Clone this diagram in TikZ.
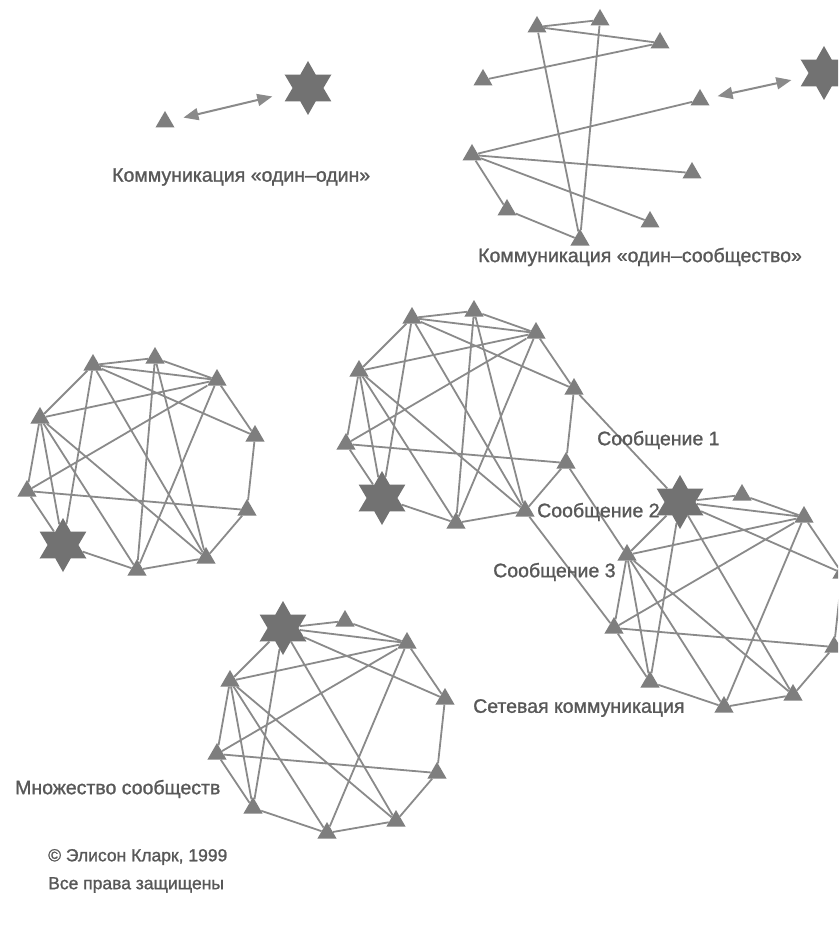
\documentclass[tikz,border=0pt]{standalone}
\usepackage{fontspec}
\setmainfont{Liberation Sans}
\newfontfamily\labelfont[FakeBold=1.2]{Liberation Sans}
\usetikzlibrary{shapes.geometric,arrows.meta}

\definecolor{linegray}{HTML}{8A8A8A}
\definecolor{markgray}{HTML}{7E7E7E}
\definecolor{stargray}{HTML}{727272}
\definecolor{textgray}{HTML}{585858}

\tikzset{
  member/.style={regular polygon, regular polygon sides=3, fill=markgray,
    draw=none, minimum size=22pt, inner sep=0pt},
  leader/.style={star, star points=6, star point ratio=1.75, fill=stargray,
    draw=none, minimum size=54pt, inner sep=0pt},
  link/.style={draw=linegray, line width=1.8pt},
  talk/.style={link, line width=2pt, {Triangle[length=15pt,width=12pt]}-{Triangle[length=15pt,width=12pt]}},
  caption/.style={text=textgray, font=\labelfont\fontsize{19.5}{22}\selectfont,
    inner sep=0pt, anchor=west},
  small caption/.style={caption, font=\labelfont\fontsize{17.5}{20}\selectfont},
}

% one community: ten members on a ring; #1 is the style of A, #2 that of S
\newcommand\ringnodes[2]{%
  \node[#1]     (A) at (93,365)  {};
  \node[member] (B) at (155,358) {};
  \node[member] (C) at (217,380) {};
  \node[member] (D) at (255,436) {};
  \node[member] (E) at (247,510) {};
  \node[member] (F) at (206,558) {};
  \node[member] (G) at (137,570) {};
  \node[#2]     (S) at (63,545)  {};
  \node[member] (H) at (27,491)  {};
  \node[member] (I) at (40,418)  {};
}
\newcommand\ringlinks{%
  \draw[link] (A) -- (B)  (A) -- (C)  (B) -- (C)  (A) -- (D)  (A) -- (I)
              (A) -- (S)  (A) -- (F)  (C) -- (I)  (C) -- (H)  (C) -- (G)
              (C) -- (D)  (D) -- (E)  (I) -- (H)  (I) -- (S)  (I) -- (G)
              (I) -- (F)  (H) -- (S)  (H) -- (E)  (S) -- (G)  (G) -- (F)
              (E) -- (F);
}
\newcommand\toplinks{%
  \draw[link] (B) -- (G)  (B) -- (F);
}

\begin{document}
\begin{tikzpicture}[x=1pt,y=-1pt]
  \useasboundingbox (0,0) rectangle (838,925);
  \clip (0,0) rectangle (838,925);
  \fill[white] (0,0) rectangle (838,925);

  % one-to-one
  \node[member] (p) at (165,122) {};
  \node[leader] (q) at (308,88) {};
  \draw[talk, shorten <=13pt, shorten >=18pt] (p) -- (q);
  \node[caption] (cap1) at (112,177) {Коммуникация «один–один»};

  % one-to-community
  \node[member] (c1) at (537,27) {};
  \node[member] (c2) at (600,20) {};
  \node[member] (c3) at (660,43) {};
  \node[member] (c4) at (483,80) {};
  \node[member] (c5) at (700,100) {};
  \node[member] (c6) at (472,155) {};
  \node[member] (c7) at (692,173) {};
  \node[member] (c8) at (507,210) {};
  \node[member] (c9) at (650,222) {};
  \node[member] (c10) at (580,240) {};
  \node[leader] (cs) at (824,73) {};
  \draw[link] (c1) -- (c2)  (c1) -- (c3)  (c3) -- (c4)  (c1) -- (c10)
              (c2) -- (c10) (c6) -- (c5)  (c6) -- (c7)  (c6) -- (c9)
              (c6) -- (c8)  (c8) -- (c10);
  \draw[talk, shorten <=12pt, shorten >=15pt] (c5) -- (cs);
  \node[caption] (cap2) at (478,257) {Коммуникация «один–сообщество»};

  % a community on its own
  \begin{scope}[name prefix=L-]
    \ringnodes{member}{leader}
    \ringlinks
    \toplinks
  \end{scope}

  % two communities joined by messages
  \begin{scope}[shift={(319,-47)}, name prefix=M-]
    \ringnodes{member}{leader}
    \ringlinks
    \toplinks
  \end{scope}
  \begin{scope}[shift={(587,137)}, name prefix=R-]
    \ringnodes{leader}{member}
    \ringlinks
  \end{scope}
  \draw[link] (M-D) -- (R-A)  (M-E) -- (R-I)  (M-F) -- (R-H);
  \node[caption] (m1) at (597,440) {Сообщение 1};
  \node[caption] (m2) at (537,512) {Сообщение 2};
  \node[caption] (m3) at (493,572) {Сообщение 3};
  \node[caption] (cap3) at (473,708) {Сетевая коммуникация};

  % many communities
  \begin{scope}[shift={(190,263)}, name prefix=B-]
    \ringnodes{leader}{member}
    \ringlinks
  \end{scope}
  \node[caption] (cap4) at (15,789) {Множество сообществ};

  \node[small caption] (copy1) at (48,857) {© Элисон Кларк, 1999};
  \node[small caption] (copy2) at (48,885) {Все права защищены};
\end{tikzpicture}
\end{document}
